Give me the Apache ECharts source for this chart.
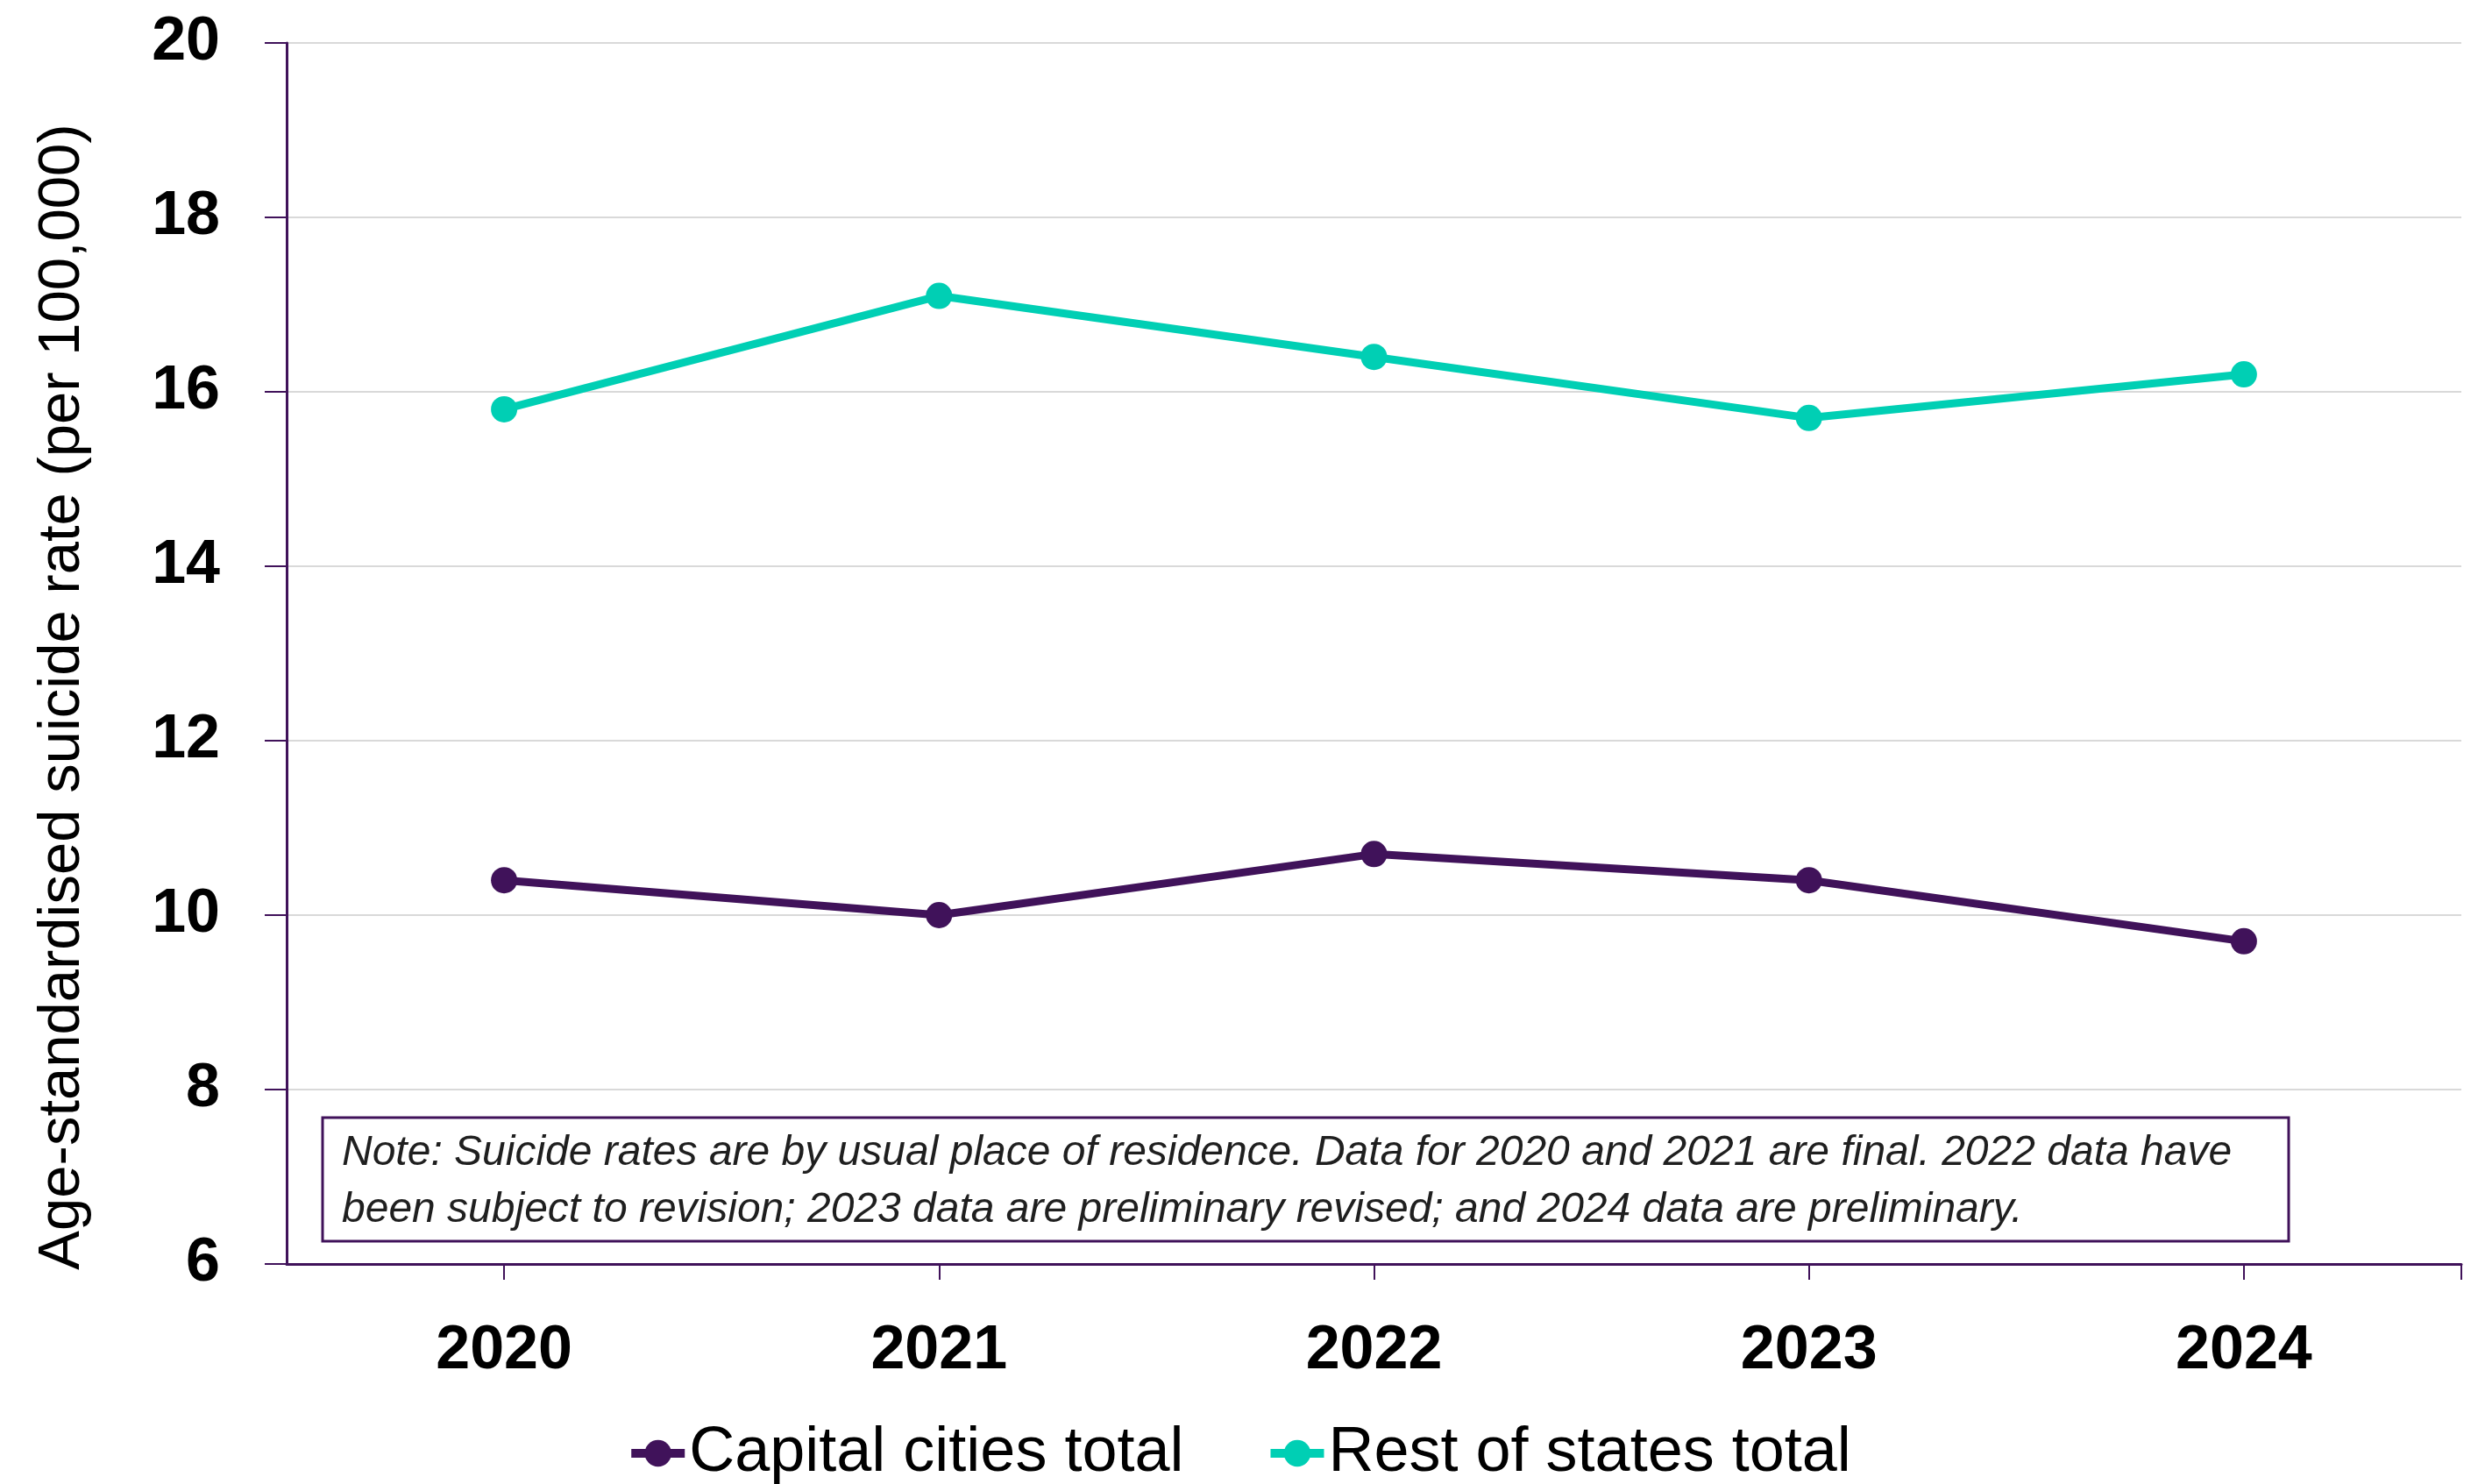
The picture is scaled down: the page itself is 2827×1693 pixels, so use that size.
<!DOCTYPE html>
<html>
<head>
<meta charset="utf-8">
<script src="https://cdn.jsdelivr.net/npm/echarts@6/dist/echarts.min.js"></script>
<style>
html,body{margin:0;padding:0;background:#fff;}
#chart{width:2827px;height:1693px;}
</style>
</head>
<body>
<div id="chart"></div>
<script>
const categories = ['2020', '2021', '2022', '2023', '2024'];
const capitalCities = [10.4, 10.0, 10.7, 10.4, 9.7];
const restOfStates = [15.8, 17.1, 16.4, 15.7, 16.2];
const seriesNames = ['Capital cities total', 'Rest of states total'];
const yTitle = 'Age-standardised suicide rate (per 100,000)';
const noteLines = [
  'Note: Suicide rates are by usual place of residence. Data for 2020 and 2021 are final. 2022 data have',
  'been subject to revision; 2023 data are preliminary revised; and 2024 data are preliminary.'
];

const PURPLE = '#40125A';
const TEAL = '#00CFB4';
const FONT = '"Liberation Sans", Arial, sans-serif';

const chart = echarts.init(document.getElementById('chart'), null, {renderer: 'canvas'});
chart.setOption({
  backgroundColor: '#ffffff',
  animation: false,
  grid: {left: 327, right: 19, top: 49, bottom: 251, containLabel: false},
  legend: {
    bottom: -6,
    left: 'center',
    itemWidth: 61,
    itemHeight: 38,
    itemGap: 94,
    lineStyle: {width: 10},
    textStyle: {fontFamily: FONT, fontSize: 72, color: '#000'},
    data: seriesNames
  },
  xAxis: {
    type: 'category',
    data: categories,
    boundaryGap: true,
    axisLine: {lineStyle: {color: PURPLE, width: 3}},
    axisTick: {show: true, alignWithLabel: true, length: 18, lineStyle: {color: PURPLE, width: 2}},
    axisLabel: {fontFamily: FONT, fontSize: 70, fontWeight: 'bold', color: '#000', margin: 65}
  },
  yAxis: {
    type: 'value',
    min: 6, max: 20, interval: 2,
    axisLine: {show: true, lineStyle: {color: PURPLE, width: 3}},
    axisTick: {show: true, length: 25, lineStyle: {color: PURPLE, width: 2}},
    splitLine: {show: true, lineStyle: {color: '#d9d9d9', width: 2}},
    axisLabel: {fontFamily: FONT, fontSize: 70, fontWeight: 'bold', color: '#000', margin: 76}
  },
  graphic: [
    {
      type: 'text', x: 72, y: 795, rotation: Math.PI / 2,
      style: {text: yTitle, fontFamily: FONT, fontSize: 67, fill: '#000', textAlign: 'center', textVerticalAlign: 'middle'}
    },
    {
      type: 'line', shape: {x1: 2808, y1: 1442, x2: 2808, y2: 1460},
      style: {stroke: PURPLE, lineWidth: 2}
    },
    {
      type: 'rect', shape: {x: 368, y: 1275, width: 2243, height: 141},
      style: {fill: '#fff', stroke: PURPLE, lineWidth: 3}, z: 10
    },
    {
      type: 'text', x: 390, y: 1316, z: 11,
      style: {text: noteLines[0], fontFamily: FONT, fontSize: 48, fontStyle: 'italic', fill: '#1f1f1f', textVerticalAlign: 'middle'}
    },
    {
      type: 'text', x: 390, y: 1381, z: 11,
      style: {text: noteLines[1], fontFamily: FONT, fontSize: 48, fontStyle: 'italic', fill: '#1f1f1f', textVerticalAlign: 'middle'}
    }
  ],
  series: [
    {
      name: seriesNames[0], type: 'line', data: capitalCities,
      symbol: 'circle', symbolSize: 30,
      lineStyle: {color: PURPLE, width: 9}, itemStyle: {color: PURPLE}
    },
    {
      name: seriesNames[1], type: 'line', data: restOfStates,
      symbol: 'circle', symbolSize: 30,
      lineStyle: {color: TEAL, width: 9}, itemStyle: {color: TEAL}
    }
  ]
});
</script>
</body>
</html>
